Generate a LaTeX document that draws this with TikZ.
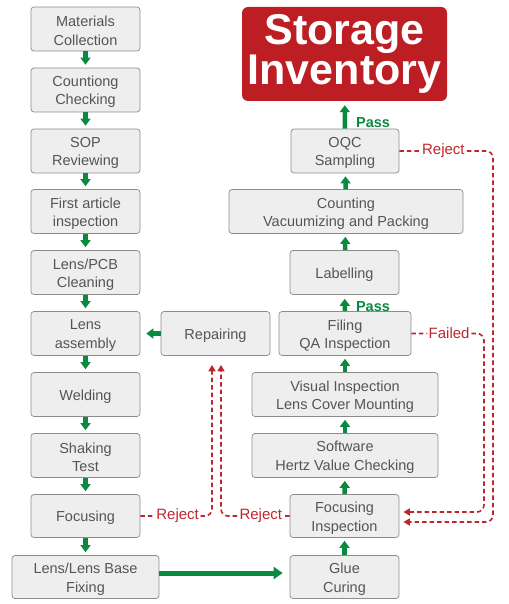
\documentclass[tikz,border=0pt]{standalone}
\usepackage{fontspec}
\setmainfont{Liberation Sans}
\usetikzlibrary{arrows.meta}
\definecolor{boxfill}{HTML}{EEEEEE}
\definecolor{boxline}{HTML}{8C8C8C}
\definecolor{boxtext}{HTML}{555555}
\definecolor{grn}{HTML}{0A8A3E}
\definecolor{rd}{HTML}{C0272D}
\definecolor{store}{HTML}{BD1E24}
\tikzset{
  box/.style={draw=boxline, line width=0.7pt, fill=boxfill, rounded corners=3pt, inner sep=0pt},
  boxtxt/.style={text=boxtext, align=center, font=\fontsize{14.5}{18.5}\selectfont, inner sep=0pt},
  garrow/.style={draw=grn, line width=4.5pt, -{Triangle[width=10pt,length=7pt]}, shorten >=3pt},
  rarrow/.style={draw=rd, line width=1.6pt, dash pattern=on 4.5pt off 3pt, rounded corners=7pt,
    -{Triangle[width=7pt,length=6.5pt]}},
  rlab/.style={fill=white, text=rd, inner sep=1.5pt, font=\fontsize{15}{16}\selectfont},
  glab/.style={text=grn, inner sep=0pt, font=\fontsize{14.5}{16}\selectfont\bfseries}
}
\newcommand\bx[5]{%
  \node[box, minimum width=#3, minimum height=#4] (#1) at (#2) {};
  \node[boxtxt] at ([yshift=-2pt]#1.center) {#5};}
\begin{document}
\begin{tikzpicture}[x=1pt,y=-1pt]
\useasboundingbox (0,0) rectangle (508,604);
% left column
\bx{mat}{85.5,29}{109pt}{44pt}{Materials\\Collection}
\bx{cnt}{85.5,90}{109pt}{44pt}{Countiong\\Checking}
\bx{sop}{85.5,151}{109pt}{44pt}{SOP\\Reviewing}
\bx{fai}{85.5,211.5}{109pt}{44pt}{First article\\inspection}
\bx{cln}{85.5,272.5}{109pt}{44pt}{Lens/PCB\\Cleaning}
\bx{asm}{85.5,333.5}{109pt}{44pt}{Lens\\assembly}
\bx{wld}{85.5,394.5}{109pt}{44pt}{Welding}
\bx{shk}{85.5,455.5}{109pt}{44pt}{Shaking\\Test}
\bx{foc}{85.5,516}{109pt}{43pt}{Focusing}
\bx{fix}{85.5,577}{147pt}{43pt}{Lens/Lens Base\\Fixing}
% middle
\bx{rep}{215.5,333.5}{109pt}{44pt}{Repairing}
% right column
\bx{glue}{344.5,577}{109pt}{43pt}{Glue\\Curing}
\bx{fins}{344.5,516}{109pt}{43pt}{Focusing\\Inspection}
\bx{soft}{345,455.5}{186pt}{44pt}{Software\\Hertz Value Checking}
\bx{vis}{345,394.5}{186pt}{44pt}{Visual Inspection\\Lens Cover Mounting}
\bx{fil}{345,333.5}{132pt}{44pt}{Filing\\QA Inspection}
\bx{lab}{344.5,272.5}{109pt}{44pt}{Labelling}
\bx{pack}{346,211.5}{234pt}{44pt}{Counting\\Vacuumizing and Packing}
\bx{oqc}{345,151}{108pt}{44pt}{OQC\\Sampling}
\node[draw=none, fill=store, rounded corners=6pt, minimum width=205pt, minimum height=94pt,
  text=white, align=center, inner sep=0pt, font=\fontsize{43}{36}\selectfont\bfseries] (sto) at (344.5,54) {Storage\\Inventory};
% green arrows left
\draw[garrow] (mat) -- (cnt);
\draw[garrow] (cnt) -- (sop);
\draw[garrow] (sop) -- (fai);
\draw[garrow] (fai) -- (cln);
\draw[garrow] (cln) -- (asm);
\draw[garrow] (asm) -- (wld);
\draw[garrow] (wld) -- (shk);
\draw[garrow] (shk) -- (foc);
\draw[garrow] (foc) -- (fix);
% right column arrows
\draw[garrow] (glue) -- (fins);
\draw[garrow] (fins) -- (soft);
\draw[garrow] (soft) -- (vis);
\draw[garrow] (vis) -- (fil);
\draw[garrow, shorten >=4pt] (fil) -- (lab) node[glab, pos=0.25, anchor=west, xshift=9pt] {Pass};
\draw[garrow] (lab) -- (pack);
\draw[garrow] (pack) -- (oqc);
\draw[garrow, shorten >=4pt] (oqc) -- (sto) node[glab, pos=0.22, anchor=west, xshift=9pt] {Pass};
% horizontal green arrows
\draw[garrow, line width=5pt, -{Triangle[width=12pt,length=9pt]}, shorten >=7pt]
  ([yshift=4pt]fix.east) -- ([yshift=4pt]fix.east -| glue.west);
\draw[garrow, shorten >=6pt] (rep) -- (asm);
% red dashed paths
\coordinate (r1) at (493,0);
\coordinate (r2) at (484,0);
\coordinate (r3) at (212,0);
\coordinate (r4) at (221,0);
\draw[rarrow, shorten >=4pt] (oqc.east) -- node[rlab, pos=0.47] {Reject} (oqc.east -| r1) -- ([yshift=-6pt]fins.east -| r1) -- ([yshift=-6pt]fins.east);
\draw[rarrow, shorten >=4pt] (fil.east) -- node[rlab, pos=0.52] {Failed} (fil.east -| r2) -- ([yshift=4pt]fins.east -| r2) -- ([yshift=4pt]fins.east);
\draw[rarrow, shorten >=9pt] (foc.east) -- node[rlab, pos=0.52] {Reject} (foc.east -| r3) -- (rep.south -| r3);
\draw[rarrow, shorten >=9pt] (fins.west) -- node[rlab, pos=0.42] {Reject} (fins.west -| r4) -- (rep.south -| r4);
\end{tikzpicture}
\end{document}
